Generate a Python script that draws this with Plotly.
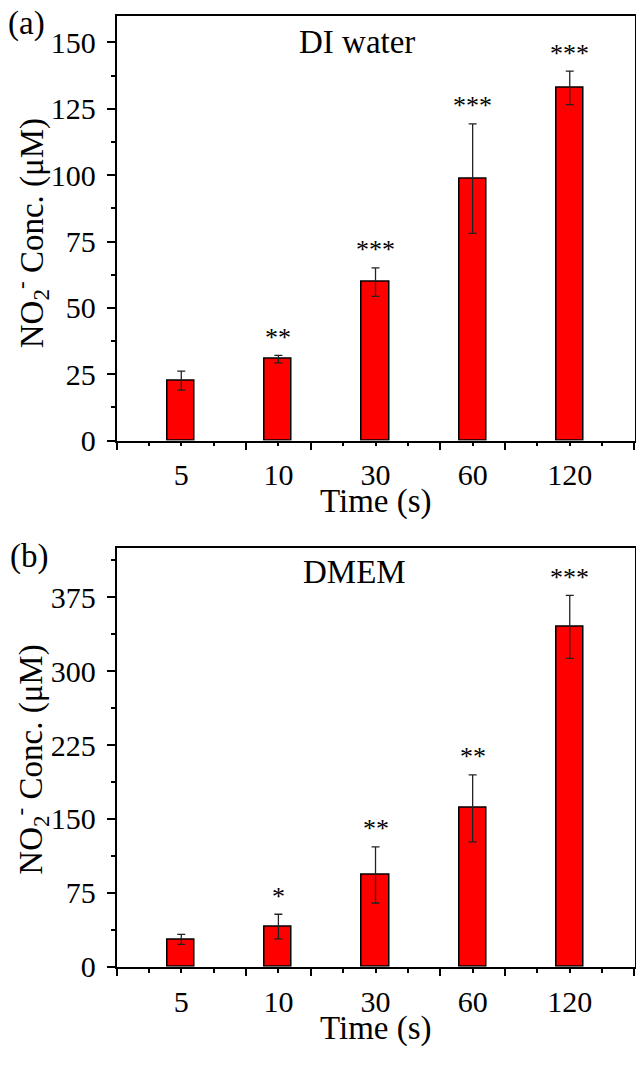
import plotly.graph_objects as go

# ---- data ----
times = ["5", "10", "30", "60", "120"]
di_mean = [22.6, 30.7, 59.7, 98.7, 132.9]
di_err = [3.6, 1.4, 5.4, 20.6, 6.3]
di_sig = ["", "**", "***", "***", "***"]
dmem_mean = [27.8, 40.8, 93.2, 160.8, 344.8]
dmem_err = [5.0, 12.5, 28.5, 34.0, 32.0]
dmem_sig = ["", "*", "**", "**", "***"]
di_yticks = [0, 25, 50, 75, 100, 125, 150]
dmem_yticks = [0, 75, 150, 225, 300, 375]

pos = list(range(1, len(times) + 1))
xr = [1 / 3, len(times) + 2 / 3]
long_ticks = [1 / 3, 5 / 3, 7 / 3, 11 / 3, 13 / 3, 17 / 3]
short_ticks = [2 / 3, 4 / 3, 8 / 3, 10 / 3, 14 / 3, 16 / 3]

FONT = "Liberation Serif"
# page body has an 8px margin; figure sized so the page fits the 644x1071 window
OFF = 8
W, H = 644 - 2 * OFF, 1071 - 2 * OFF

def px_x(p):
    return (p - OFF) / W

def px_y(p):
    return 1 - (p - OFF) / H

dom_x = [px_x(116.7), min(1.0, px_x(635.5))]
dom_top = [px_y(447.7), px_y(16)]
dom_bot = [px_y(982.5), px_y(556.7)]

fig = go.Figure()

def add_panel(mean, err, xa, ya):
    fig.add_trace(go.Bar(
        x=pos, y=mean, width=0.28,
        marker=dict(color="#ff0000", line=dict(color="black", width=1.5)),
        error_y=dict(type="data", array=err, visible=True, color="#222222",
                     thickness=1.3, width=4),
        xaxis=xa, yaxis=ya, showlegend=False,
    ))

add_panel(di_mean, di_err, "x", "y")
add_panel(dmem_mean, dmem_err, "x2", "y2")

axis_common = dict(showline=True, linecolor="black", linewidth=1.6, mirror=True,
                   ticks="outside", tickcolor="black", tickwidth=1.5,
                   showgrid=False, zeroline=False,
                   tickfont=dict(family=FONT, size=30, color="black"))

def xaxis(dom_anchor):
    return dict(axis_common, domain=dom_x, range=xr, anchor=dom_anchor,
                tickmode="array", tickvals=pos, ticktext=times, ticklen=4,
                ticklabelstandoff=3,
                minor=dict(tickmode="array", tickvals=short_ticks, ticklen=4,
                           tickcolor="black", tickwidth=1.5, ticks="outside"))

def long_axis(over, anchor):
    return dict(overlaying=over, anchor=anchor, range=xr, domain=dom_x,
                tickmode="array", tickvals=long_ticks, ticks="outside", ticklen=8,
                tickwidth=1.5, tickcolor="black", showticklabels=False,
                showline=False, showgrid=False, zeroline=False)

fig.update_layout(
    width=W, height=H, margin=dict(l=0, r=0, t=0, b=0),
    paper_bgcolor="white", plot_bgcolor="white",
    font=dict(family=FONT, color="black"),
    bargap=0,
    xaxis=xaxis("y"),
    xaxis2=xaxis("y2"),
    xaxis3=long_axis("x", "y"),
    xaxis4=long_axis("x2", "y2"),
    yaxis=dict(axis_common, domain=dom_top, range=[0, 160], anchor="x",
               tickmode="array", tickvals=di_yticks, ticklen=8,
               ticklabelstandoff=5,
               minor=dict(dtick=12.5, tick0=0, ticklen=4, tickcolor="black",
                          tickwidth=1.5, ticks="outside")),
    yaxis2=dict(axis_common, domain=dom_bot, range=[0, 425], anchor="x2",
                tickmode="array", tickvals=dmem_yticks, ticklen=8,
                ticklabelstandoff=5,
                minor=dict(dtick=37.5, tick0=0, ticklen=4, tickcolor="black",
                           tickwidth=1.5, ticks="outside")),
)

# invisible traces to activate the overlay tick axes
fig.add_trace(go.Scatter(x=[None], y=[None], xaxis="x3", yaxis="y", showlegend=False,
                         hoverinfo="skip"))
fig.add_trace(go.Scatter(x=[None], y=[None], xaxis="x4", yaxis="y2", showlegend=False,
                         hoverinfo="skip"))

ann = []
def stars(mean, err, sig, xref, yref):
    for p, m, e, s in zip(pos, mean, err, sig):
        if s:
            ann.append(dict(x=p, y=m + e, xref=xref, yref=yref, text=s,
                            showarrow=False, yshift=18, xanchor="center",
                            yanchor="middle",
                            font=dict(family=FONT, size=26, color="black")))

stars(di_mean, di_err, di_sig, "x", "y")
stars(dmem_mean, dmem_err, dmem_sig, "x2", "y2")

big = dict(family=FONT, size=33, color="black")

def label(xp, yp, text, font, angle=0):
    ann.append(dict(x=px_x(xp), y=px_y(yp), xref="paper", yref="paper", text=text,
                    showarrow=False, xanchor="center", yanchor="middle",
                    textangle=angle, font=font))

label(358, 43, "DI water", big)
label(355, 581, "DMEM", big)
label(27, 24, "(a)", big)
label(29, 565, "(b)", big)
label(377, 510, "Time (s)", big)
label(377, 1045, "Time (s)", big)
ytitle = "NO<sub>2</sub><sup>-</sup> Conc. (μM)"
for yc in (237, 772):
    label(31, yc, ytitle, dict(family=FONT, size=33, color="black"), angle=-90)

fig.update_layout(annotations=ann)
fig.write_html("out.html")
